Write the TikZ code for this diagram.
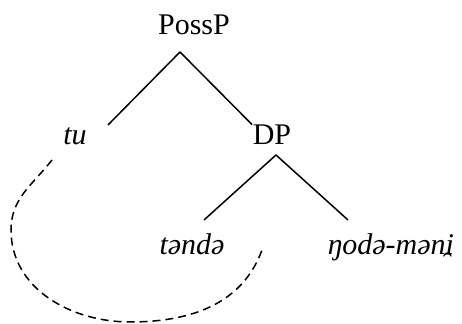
\documentclass[tikz,border=0pt]{standalone}
\usepackage{fontspec}
\setmainfont{Liberation Serif}
\usepackage{tikz}
% non-syllabic i with an arch below it
\newcommand{\nsi}{\ooalign{i\cr\hidewidth\raisebox{-0.06em}{\rotatebox[origin=c]{180}{˘}}\hidewidth\cr}}

\begin{document}
\begin{tikzpicture}[x=0.5pt,y=0.5pt,line width=0.75pt,
    word/.style={inner sep=0pt,anchor=base,font=\fontsize{15}{18}\selectfont}]
    \useasboundingbox (0,0) rectangle (462,324);

    \node[word] (possp) at (194,289) {PossP};
    \node[word] (tu) at (75,179) {\itshape tu};
    \node[word] (dp) at (272,179) {DP};
    \node[word] (tande) at (192,69) {\itshape təndə};
    \node[word] (ngode) at (391,69) {\itshape ŋodə-mən\nsi};

    % branch ends
    \coordinate (possp-b) at (180,272);
    \coordinate (tu-t) at (108,199);
    \coordinate (dp-b) at (276,169);
    \coordinate (tande-t) at (204,104);
    \coordinate (ngode-t) at (348,104);

    \draw (possp-b) -- (tu-t);
    \draw (possp-b) -- (dp.north west);
    \draw (dp-b) -- (tande-t);
    \draw (dp-b) -- (ngode-t);

    % binding arc
    \coordinate (arc-s) at (52,164);
    \coordinate (arc-e) at (262,74);
    \draw[dash pattern=on 4pt off 2.5pt]
        (arc-s) to[out=232,in=90] (11,94) to[out=270,in=180] (130,2)
        to[out=0,in=250] (arc-e);
\end{tikzpicture}
\end{document}
